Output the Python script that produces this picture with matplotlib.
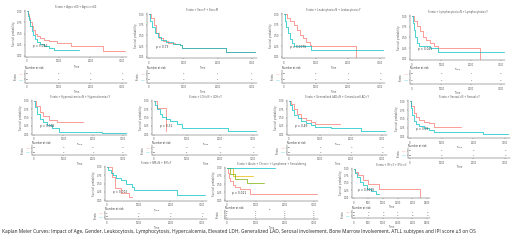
import matplotlib
matplotlib.use("Agg")
import matplotlib.pyplot as plt

W, H = 520, 240
RED = "#F8766D"
TEAL = "#00BFC4"
YEL = "#E7B800"
GRN = "#7CAE00"

titles = [
    "Strata + Age=<60 + Age=>=60",
    "Strata + Sex=F + Sex=M",
    "Strata + Leukocytosis=N + Leukocytosis=Y",
    "Strata + Lymphocytosis=N + Lymphocytosis=Y",
    "Strata + Hypercalcemia=N + Hypercalcemia=Y",
    "Strata + LDH=N + LDH=Y",
    "Strata + Generalized LAD=N + Generalized LAD=Y",
    "Strata + Serosal=N + Serosal=Y",
    "Strata + BM=N + BM=Y",
    "Strata + Acute + Chronic + Lymphoma + Smouldering",
    "Strata + IPI<3 + IPI>=3",
]
pvals = ["p = 0.094", "p = 0.73", "p = 0.0076", "p = 0.021", "p = 0.028", "p = 0.31",
         "p = 0.46", "p = 0.19", "p = 0.002", "p = 0.011", "p = 0.0018"]

# panel curves: list of (times, surv, color)
p1 = [([0, 30, 60, 100, 150, 200, 260, 330, 420, 550, 700, 950, 1400, 2400, 3100],
       [1.0, 0.93, 0.85, 0.75, 0.66, 0.57, 0.5, 0.45, 0.4, 0.36, 0.33, 0.29, 0.21, 0.11, 0.11], RED),
      ([0, 30, 60, 100, 150, 200, 260, 330, 420, 550, 700, 850, 1650],
       [1.0, 0.9, 0.8, 0.68, 0.56, 0.46, 0.38, 0.31, 0.26, 0.22, 0.18, 0.13, 0.13], TEAL)]
p2 = [([0, 60, 150, 200, 280, 400, 550, 750, 900, 950, 2250, 3100],
       [1.0, 0.92, 0.75, 0.55, 0.45, 0.38, 0.33, 0.3, 0.28, 0.2, 0.1, 0.1], RED),
      ([0, 40, 100, 170, 250, 350, 500, 700, 900, 950, 2250, 3100],
       [1.0, 0.85, 0.7, 0.57, 0.47, 0.4, 0.35, 0.31, 0.28, 0.2, 0.1, 0.1], TEAL)]
p3 = [([0, 100, 200, 300, 400, 500, 600, 700, 800, 850, 2250],
       [1.0, 0.92, 0.83, 0.74, 0.62, 0.52, 0.43, 0.35, 0.27, 0.25, 0.0], RED),
      ([0, 30, 70, 120, 180, 250, 300, 850, 3100],
       [1.0, 0.85, 0.7, 0.55, 0.42, 0.32, 0.26, 0.15, 0.15], TEAL)]
p4 = [([0, 80, 180, 280, 380, 480, 600, 750, 900, 2300],
       [1.0, 0.9, 0.78, 0.65, 0.52, 0.43, 0.36, 0.3, 0.25, 0.0], RED),
      ([0, 30, 70, 120, 180, 230, 600, 900, 3100],
       [1.0, 0.85, 0.68, 0.5, 0.38, 0.3, 0.25, 0.16, 0.16], TEAL)]
p5 = [([0, 80, 200, 300, 500, 800, 1650],
       [1.0, 0.85, 0.67, 0.55, 0.43, 0.36, 0.36], RED),
      ([0, 50, 120, 200, 300, 450, 600, 850, 2300, 3100],
       [1.0, 0.82, 0.62, 0.45, 0.35, 0.27, 0.19, 0.07, 0.02, 0.02], TEAL)]
p6 = [([0, 100, 350], [1.0, 0.8, 0.1], RED),
      ([0, 40, 100, 170, 250, 350, 500, 700, 850, 2250, 3100],
       [1.0, 0.88, 0.75, 0.62, 0.52, 0.45, 0.38, 0.3, 0.17, 0.1, 0.1], TEAL)]
p7 = [([0, 60, 150, 250, 400, 550, 700, 850, 1650],
       [1.0, 0.9, 0.75, 0.6, 0.5, 0.42, 0.35, 0.3, 0.3], RED),
      ([0, 40, 100, 180, 280, 400, 550, 700, 850, 1350, 2300, 3100],
       [1.0, 0.87, 0.72, 0.58, 0.47, 0.4, 0.33, 0.28, 0.22, 0.18, 0.08, 0.08], TEAL)]
p8 = [([0, 50, 120, 200, 300, 450, 600, 750, 1600],
       [1.0, 0.85, 0.68, 0.55, 0.48, 0.42, 0.38, 0.28, 0.28], RED),
      ([0, 30, 70, 120, 200, 300, 450, 600, 750, 2300, 3100],
       [1.0, 0.8, 0.6, 0.45, 0.36, 0.3, 0.25, 0.2, 0.15, 0.08, 0.08], TEAL)]
p9 = [([0, 150, 250, 450, 700, 800], [1.0, 0.7, 0.35, 0.2, 0.1, 0.1], RED),
      ([0, 50, 120, 200, 300, 450, 600, 800, 850, 2200, 3100],
       [1.0, 0.92, 0.83, 0.75, 0.67, 0.6, 0.5, 0.4, 0.3, 0.15, 0.15], TEAL)]
p10 = [([0, 30, 70, 120, 200, 300, 450, 800, 3100],
        [1.0, 0.85, 0.7, 0.58, 0.48, 0.4, 0.34, 0.2, 0.2], RED),
       ([0, 200, 500, 900], [1.0, 0.75, 0.75, 0.75], YEL),
       ([0, 100, 300, 700, 1270], [1.0, 0.8, 0.67, 0.53, 0.53], GRN),
       ([0, 1670], [1.0, 1.0], TEAL)]
p11 = [([0, 50, 150, 300, 500, 850, 2250],
        [1.0, 0.9, 0.78, 0.62, 0.45, 0.3, 0.0], RED),
       ([0, 50, 120, 200, 300, 450, 600, 750, 870],
        [1.0, 0.85, 0.7, 0.55, 0.42, 0.3, 0.2, 0.1, 0.1], TEAL)]
curves = [p1, p2, p3, p4, p5, p6, p7, p8, p9, p10, p11]

risk = [
    [[22, 3, 1, 1], [20, 2, 0, 0]],
    [[18, 2, 1, 1], [24, 3, 1, 0]],
    [[16, 3, 1, 0], [26, 2, 1, 0]],
    [[15, 3, 1, 0], [27, 2, 1, 0]],
    [[14, 3, 0, 0], [28, 2, 1, 0]],
    [[3, 0, 0, 0], [39, 5, 2, 1]],
    [[12, 2, 0, 0], [30, 3, 1, 0]],
    [[13, 2, 0, 0], [29, 3, 1, 0]],
    [[9, 0, 0, 0], [33, 5, 2, 1]],
    [[30, 3, 1, 0], [4, 1, 0, 0], [5, 1, 0, 0], [3, 1, 0, 0]],
    [[20, 4, 2, 1, 1, 0], [22, 1, 0, 0, 0, 0]],
]

# layout (left, right, top, bottom) px for main and risk axes
main_px = [(25, 127, 10, 57), (147, 257, 13, 58), (282, 385, 13, 58), (410, 505, 15, 60),
           (32, 127, 100, 135), (152, 258, 100, 135), (287, 387, 100, 135), (408, 510, 100, 138),
           (105, 207, 166, 201), (225, 318, 167, 201), (352, 430, 168, 198)]
risk_px = [(25, 127, 70, 83), (147, 257, 70, 83), (282, 385, 70, 83), (410, 505, 70, 84),
           (32, 127, 145, 155), (152, 258, 145, 155), (287, 387, 145, 155), (408, 510, 148, 158),
           (105, 207, 211, 219), (225, 318, 210, 219), (352, 430, 210, 218)]

fig = plt.figure(figsize=(W / 100, H / 100), dpi=100)
fig.patch.set_facecolor("white")


def ax_px(l, r, t, b):
    return fig.add_axes([l / W, 1 - b / H, (r - l) / W, (b - t) / H])


FS = 1.8
LC = "#555555"
for i in range(11):
    l, r, t, b = main_px[i]
    ax = ax_px(l, r, t, b)
    xmax = 2600 if i == 10 else 3150
    xt = [0, 500, 1000, 1500, 2000, 2500] if i == 10 else [0, 1000, 2000, 3000]
    for tt, ss, c in curves[i]:
        ax.step(tt, ss, where="post", color=c, lw=0.5)
    ax.set_xlim(-60, xmax)
    ax.set_ylim(-0.03, 1.03)
    ax.set_yticks([0, 0.25, 0.5, 0.75, 1.0])
    ax.set_yticklabels(["0.00", "0.25", "0.50", "0.75", "1.00"])
    ax.set_xticks(xt)
    ax.tick_params(labelsize=FS, length=1, width=0.3, pad=0.8, colors=LC)
    for s in ["top", "right"]:
        ax.spines[s].set_visible(False)
    for s in ["left", "bottom"]:
        ax.spines[s].set_linewidth(0.35)
        ax.spines[s].set_color(LC)
    ax.set_xlabel("Time", fontsize=FS, labelpad=0.5 if i == 10 else 0.8, color=LC)
    ax.set_ylabel("Survival probability", fontsize=FS, labelpad=1, color=LC)
    ax.set_title(titles[i], fontsize=FS, pad=1.5, color=LC)
    ax.text(0.08, 0.22, pvals[i], transform=ax.transAxes, fontsize=FS + 0.3, color="#333333")

    # risk table
    rl, rr, rt, rb = risk_px[i]
    rax = ax_px(rl, rr, rt, rb)
    groups = curves[i]
    ng = len(groups)
    for g in range(ng):
        yv = ng - g
        for k, x in enumerate(xt):
            if k < len(risk[i][g]):
                rax.text(x, yv, str(risk[i][g][k]), fontsize=FS - 0.3 if ng > 2 else FS - 0.2,
                         ha="center", va="center", color="#333333")
    rax.set_xlim(-60, xmax)
    rax.set_ylim(0.4, ng + 0.6)
    rax.set_xticks(xt)
    rax.set_yticks(list(range(1, ng + 1)))
    rax.set_yticklabels(["—"] * ng)
    rax.tick_params(labelsize=FS, length=1, width=0.3, pad=0.8, colors=LC)
    ysz = 1.5 if ng > 2 else FS + 1
    for lab, (_, _, c) in zip(rax.get_yticklabels(), groups[::-1]):
        lab.set_color(c)
        lab.set_fontsize(ysz)
    for s in ["top", "right"]:
        rax.spines[s].set_visible(False)
    for s in ["left", "bottom"]:
        rax.spines[s].set_linewidth(0.35)
        rax.spines[s].set_color(LC)
    rax.set_title("Number at risk", fontsize=FS, loc="left", pad=0.8, color="#333333")
    rax.set_ylabel("Strata", fontsize=FS, labelpad=0.5, color=LC)
    rax.set_xlabel("Time", fontsize=FS, labelpad=0.3, color=LC)

caption = ("Kaplan Meier Curves: Impact of Age, Gender, Leukocytosis, Lymphocytosis, Hypercalcemia, "
           "Elevated LDH, Generalized LAD, Serosal involvement, Bone Marrow Involvement, ATLL subtypes "
           "and IPI score \u22653 on OS")
txt = fig.text(2 / W, 1 - 232 / H, caption, fontsize=4.5, ha="left", va="center",
               family="Open Sans", color="#222222")
fig.canvas.draw()
bb = txt.get_window_extent()
txt.set_fontsize(4.5 * 471 / bb.width)

fig.savefig("out.png", dpi=100, facecolor="white")
